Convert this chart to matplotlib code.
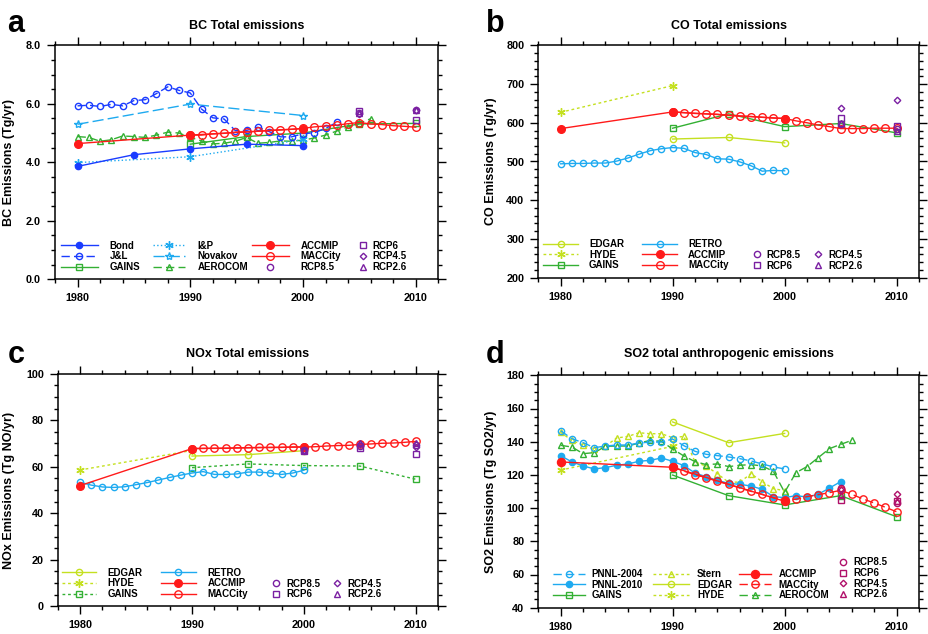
import numpy as np
import matplotlib.pyplot as plt
from matplotlib.ticker import MultipleLocator, FormatStrFormatter

plt.rcParams['font.family'] = ['Liberation Sans', 'DejaVu Sans']
plt.rcParams['font.weight'] = 'bold'

# ---------------- a: BC (Tg/yr)
bc_bond_yr = [1980, 1985, 1990, 1995, 2000]
bc_bond = [3.86, 4.26, 4.46, 4.62, 4.57]
bc_jl_yr = list(range(1980, 2004))
bc_jl = [5.93, 5.95, 5.91, 5.98, 5.93, 6.11, 6.14, 6.35, 6.58, 6.46, 6.37, 5.82,
         5.52, 5.48, 5.08, 5.09, 5.20, 5.05, 4.87, 4.87, 4.98, 5.01, 5.16, 5.37]
bc_gains_yr = [1990, 1995, 2000, 2005, 2010]
bc_gains = [4.62, 4.88, 5.00, 5.31, 5.33]
bc_ip_yr = [1980, 1990, 2000]
bc_ip = [3.99, 4.19, 4.78]
bc_novakov_yr = [1980, 1990, 2000]
bc_novakov = [5.30, 5.99, 5.60]
bc_aerocom_yr = list(range(1980, 2007))
bc_aerocom = [4.88, 4.85, 4.72, 4.77, 4.90, 4.88, 4.85, 4.93, 5.03, 5.00, 4.85, 4.73,
              4.63, 4.65, 4.72, 4.85, 4.65, 4.68, 4.73, 4.72, 4.76, 4.83, 4.93, 5.07,
              5.21, 5.33, 5.49]
bc_accmip_yr = [1980, 1990, 2000]
bc_accmip = [4.64, 4.93, 5.15]
bc_macc_yr = list(range(1990, 2011))
bc_macc = [4.93, 4.93, 4.97, 4.99, 5.03, 5.04, 5.06, 5.09, 5.11, 5.13, 5.16, 5.21,
           5.24, 5.27, 5.32, 5.36, 5.31, 5.29, 5.25, 5.23, 5.20]
bc_rcp = {'RCP8.5': [5.70, 5.78], 'RCP6': [5.77, 5.45],
          'RCP4.5': [5.65, 5.80], 'RCP2.6': [5.68, 5.80]}

# ---------------- b: CO (Tg/yr)
co_edgar_yr = [1990, 1995, 2000]
co_edgar = [558, 562, 548]
co_hyde_yr = [1980, 1990]
co_hyde = [627, 696]
co_gains_yr = [1990, 1995, 2000, 2005, 2010]
co_gains = [586, 623, 590, 598, 574]
co_retro_yr = list(range(1980, 2001))
co_retro = [494, 495, 495, 496, 496, 501, 509, 519, 528, 533, 536, 534, 523, 518,
            507, 506, 499, 489, 475, 477, 476]
co_accmip_yr = [1980, 1990, 2000]
co_accmip = [585, 628, 611]
co_macc_yr = list(range(1990, 2011))
co_macc = [628, 626, 624, 623, 622, 619, 617, 616, 614, 612, 611, 605, 600, 594,
           590, 585, 585, 585, 586, 586, 586]
co_rcp = {'RCP8.5': [598, 583], 'RCP6': [612, 592],
          'RCP4.5': [637, 660], 'RCP2.6': [600, 578]}

# ---------------- c: NOx (Tg NO/yr)
nox_edgar_yr = [1990, 1995, 2000]
nox_edgar = [64.6, 65.2, 66.9]
nox_hyde_yr = [1980, 1990]
nox_hyde = [58.6, 67.0]
nox_gains_yr = [1990, 1995, 2000, 2005, 2010]
nox_gains = [59.6, 61.2, 60.5, 60.3, 54.6]
nox_retro_yr = list(range(1980, 2001))
nox_retro = [53.3, 52.1, 51.3, 51.1, 51.4, 52.3, 53.2, 54.3, 55.4, 56.4, 57.3, 57.9,
             56.7, 56.7, 56.9, 57.7, 57.7, 57.3, 56.7, 57.3, 58.5]
nox_accmip_yr = [1980, 1990, 2000]
nox_accmip = [51.9, 67.8, 68.5]
nox_macc_yr = list(range(1990, 2011))
nox_macc = [67.8, 67.9, 67.9, 67.9, 68.1, 68.2, 68.3, 68.3, 68.3, 68.5, 68.5, 68.6,
            68.9, 69.1, 69.2, 69.6, 69.8, 70.1, 70.2, 70.5, 70.9]
nox_rcp_yr = [2000, 2005, 2010]
nox_rcp = {'RCP8.5': [67.0, 69.0, 69.3], 'RCP6': [66.9, 68.2, 65.6],
           'RCP4.5': [67.0, 69.8, 68.6], 'RCP2.6': [67.0, 70.0, 70.3]}

# ---------------- d: SO2 (Tg SO2/yr)
so2_pnnl04_yr = list(range(1980, 2001))
so2_pnnl04 = [146.6, 141.8, 139.4, 136.4, 137.4, 138.0, 138.0, 139.2, 139.8, 139.8,
              141.6, 137.6, 134.2, 132.4, 131.6, 130.8, 129.8, 128.4, 126.6, 124.8, 123.6]
so2_pnnl10_yr = list(range(1980, 2006))
so2_pnnl10 = [131.6, 127.8, 125.4, 123.6, 124.4, 125.8, 126.6, 128.2, 128.8, 130.2,
              128.2, 125.6, 121.1, 118.9, 116.7, 114.9, 114.3, 113.3, 111.3, 106.9,
              106.3, 107.5, 106.7, 108.3, 112.1, 115.9]
so2_gains_yr = [1990, 1995, 2000, 2005, 2010]
so2_gains = [119.9, 107.5, 101.9, 107.5, 94.8]
so2_stern_yr = list(range(1980, 2001))
so2_stern = [145.6, 140.8, 138.0, 135.4, 137.4, 142.2, 143.2, 145.4, 144.8, 144.8,
             142.4, 143.2, 127.8, 125.2, 120.7, 115.5, 115.7, 120.7, 115.9, 111.7, 110.5]
so2_edgar_yr = [1990, 1995, 2000]
so2_edgar = [151.9, 139.4, 145.0]
so2_hyde_yr = [1980, 1990]
so2_hyde = [122.9, 137.2]
so2_accmip_yr = [1980, 1990, 2000]
so2_accmip = [127.8, 124.6, 104.1]
so2_macc_yr = list(range(1990, 2011))
so2_macc = [124.6, 122.3, 120.1, 118.3, 116.1, 114.3, 112.1, 110.1, 108.3, 106.3,
            104.9, 105.3, 106.9, 108.1, 109.3, 110.7, 108.3, 105.5, 103.1, 100.5, 97.8]
so2_aerocom_yr = list(range(1980, 2007))
so2_aerocom = [137.8, 136.8, 132.8, 133.4, 137.2, 137.4, 137.4, 139.2, 140.8, 140.2,
               135.6, 131.4, 128.0, 126.2, 126.6, 125.0, 125.8, 126.2, 125.4, 122.1,
               109.5, 121.3, 125.0, 130.4, 135.8, 138.4, 140.8]
so2_rcp = {'RCP8.5': [112.0, 103.0], 'RCP6': [105.0, 104.0],
           'RCP4.5': [111.0, 108.7], 'RCP2.6': [108.0, 104.0]}
rcp_yr = [2005, 2010]

# colours
BLUE = '#1a3cff'
SKY = '#1eaaf0'
GREEN = '#33b033'
LIME = '#c4e020'
RED = '#ff1a1a'
PURPLE = '#7a1fa2'
MAGENTA = '#b0106a'
ASTER = (6, 2, 0)   # asterisk marker

W, H = 929, 634
fig = plt.figure(figsize=(W / 100, H / 100), dpi=100)


def make_axes(l, t, r, b):
    return fig.add_axes([l / W, 1 - b / H, (r - l) / W, (b - t) / H])


def line(ax, x, y, label, color, ls='-', marker='o', filled=False, ms=4.3, lw=1.0, z=2):
    h, = ax.plot(x, y, color=color, ls=ls, lw=lw, marker=marker, ms=ms,
                 mfc=color if filled else 'none', mec=color, mew=1.0,
                 label=label, zorder=z)
    return h


def rcp(ax, x, vals, color):
    mk = {'RCP8.5': ('o', 4.5), 'RCP6': ('s', 5), 'RCP4.5': ('D', 3.3), 'RCP2.6': ('^', 4.5)}
    hs = {}
    for name, v in vals.items():
        m, s = mk[name]
        hs[name], = ax.plot(x, v, ls='none', marker=m, ms=s, mfc='none', mec=color,
                            mew=1.0, label=name, zorder=5)
    return hs


def style(ax, xlim, ylim, ymaj, ymin, fmt, title, ylabel, ylab_right, title_dy, letter, lx, ly):
    ax.set_xlim(*xlim)
    ax.set_ylim(*ylim)
    ax.xaxis.set_major_locator(MultipleLocator(10))
    ax.xaxis.set_minor_locator(MultipleLocator(2))
    ax.yaxis.set_major_locator(MultipleLocator(ymaj))
    ax.yaxis.set_minor_locator(MultipleLocator(ymin))
    ax.yaxis.set_major_formatter(FormatStrFormatter(fmt))
    ax.tick_params(which='both', direction='out', top=True, right=True, width=1.0,
                   labelsize=7.8, pad=4)
    ax.tick_params(which='major', length=6)
    ax.tick_params(which='minor', length=3)
    for sp in ax.spines.values():
        sp.set_linewidth(1.1)
    for t in ax.get_xticklabels() + ax.get_yticklabels():
        t.set_fontweight('bold')
    ax.set_ylabel(ylabel, fontsize=9, fontweight='bold')
    # position of the right edge of the rotated label, in figure pixels
    l = ax.get_position().x0 * W
    w = ax.get_position().width * W
    ax.yaxis.set_label_coords((ylab_right - l) / w, 0.5)
    ax.text(0.5, 1 + title_dy, title, transform=ax.transAxes, ha='center',
            va='baseline', fontsize=9, fontweight='bold')
    fig.text(lx / W, 1 - ly / H, letter, fontsize=22, fontweight='bold', va='baseline')


def column(handles, x, y, hl, pad):
    fig.legend(handles=handles, loc='center left', bbox_to_anchor=(x / W, 1 - y / H),
               frameon=False, prop={'size': 7, 'weight': 'bold'}, handlelength=hl,
               handletextpad=pad, labelspacing=0.08, borderpad=0, borderaxespad=0)


# ================= panel a
ax = make_axes(55, 45.3, 438.3, 279.3)
h = {}
h['AEROCOM'] = line(ax, bc_aerocom_yr, bc_aerocom, 'AEROCOM', GREEN, ls=(0, (6, 3)), marker='^', ms=4.5)
h['GAINS'] = line(ax, bc_gains_yr, bc_gains, 'GAINS', GREEN, marker='s', ms=4.5)
h['I&P'] = line(ax, bc_ip_yr, bc_ip, 'I&P', SKY, ls=':', marker=ASTER, ms=6)
h['Novakov'] = line(ax, bc_novakov_yr, bc_novakov, 'Novakov', SKY, ls=(0, (8, 3)), marker='*', ms=6)
h['J&L'] = line(ax, bc_jl_yr, bc_jl, 'J&L', BLUE, ls=(0, (6, 3)), marker='o', ms=4.5)
h['Bond'] = line(ax, bc_bond_yr, bc_bond, 'Bond', BLUE, marker='o', filled=True, ms=4.5)
h['MACCity'] = line(ax, bc_macc_yr, bc_macc, 'MACCity', RED, marker='o', ms=5.5, z=3)
h['ACCMIP'] = line(ax, bc_accmip_yr, bc_accmip, 'ACCMIP', RED, marker='o', filled=True, ms=5.5, z=4)
h.update(rcp(ax, rcp_yr, bc_rcp, PURPLE))
style(ax, (1978, 2012), (0, 8), 2, 0.5, '%.1f', 'BC Total emissions',
      'BC Emissions (Tg/yr)', 15.5, 16 / 234, 'a', 7, 31.7)
column([h['Bond'], h['J&L'], h['GAINS']], 61, 256.3, 3.8, 1.2)
column([h['I&P'], h['Novakov'], h['AEROCOM']], 153, 256.3, 3.3, 1.3)
column([h['ACCMIP'], h['MACCity'], h['RCP8.5']], 252, 256.3, 3.8, 1.2)
column([h['RCP6'], h['RCP4.5'], h['RCP2.6']], 359, 256.3, 0.8, 0.6)

# ================= panel b
ax = make_axes(538.3, 45.3, 919, 277.7)
h = {}
h['HYDE'] = line(ax, co_hyde_yr, co_hyde, 'HYDE', LIME, ls=(0, (2, 2)), marker=ASTER, ms=6)
h['EDGAR'] = line(ax, co_edgar_yr, co_edgar, 'EDGAR', LIME, marker='o', ms=4.5)
h['GAINS'] = line(ax, co_gains_yr, co_gains, 'GAINS', GREEN, marker='s', ms=4.5)
h['RETRO'] = line(ax, co_retro_yr, co_retro, 'RETRO', SKY, marker='o', ms=4.5)
h['MACCity'] = line(ax, co_macc_yr, co_macc, 'MACCity', RED, marker='o', ms=5.5, z=3)
h['ACCMIP'] = line(ax, co_accmip_yr, co_accmip, 'ACCMIP', RED, marker='o', filled=True, ms=5.5, z=4)
h.update(rcp(ax, rcp_yr, co_rcp, PURPLE))
style(ax, (1978, 2012), (200, 800), 100, 20, '%d', 'CO Total emissions',
      'CO Emissions (Tg/yr)', 497, 16 / 232.4, 'b', 485.7, 31.7)
column([h['EDGAR'], h['HYDE'], h['GAINS']], 543.3, 254.7, 3.6, 1.1)
column([h['RETRO'], h['ACCMIP'], h['MACCity']], 642.3, 254.7, 3.6, 1.1)
column([h['RCP8.5'], h['RCP6']], 753, 260.2, 0.8, 0.6)
column([h['RCP4.5'], h['RCP2.6']], 814.5, 260.2, 0.8, 0.6)

# ================= panel c
ax = make_axes(57.7, 373.7, 438.3, 606.3)
h = {}
h['HYDE'] = line(ax, nox_hyde_yr, nox_hyde, 'HYDE', LIME, ls=(0, (2, 2)), marker=ASTER, ms=6)
h['EDGAR'] = line(ax, nox_edgar_yr, nox_edgar, 'EDGAR', LIME, marker='o', ms=4.5)
h['GAINS'] = line(ax, nox_gains_yr, nox_gains, 'GAINS', GREEN, ls=(0, (2, 2)), marker='s', ms=4.5)
h['RETRO'] = line(ax, nox_retro_yr, nox_retro, 'RETRO', SKY, marker='o', ms=4.5)
h['MACCity'] = line(ax, nox_macc_yr, nox_macc, 'MACCity', RED, marker='o', ms=5.3, z=3)
h['ACCMIP'] = line(ax, nox_accmip_yr, nox_accmip, 'ACCMIP', RED, marker='o', filled=True, ms=5.5, z=4)
h.update(rcp(ax, nox_rcp_yr, nox_rcp, PURPLE))
style(ax, (1978, 2012), (0, 100), 20, 5, '%d', 'NOx Total emissions',
      'NOx Emissions (Tg NO/yr)', 15.5, 17 / 232.6, 'c', 8, 363.3)
column([h['EDGAR'], h['HYDE'], h['GAINS']], 62, 583.3, 3.5, 1.2)
column([h['RETRO'], h['ACCMIP'], h['MACCity']], 161, 583.3, 3.6, 1.2)
column([h['RCP8.5'], h['RCP6']], 272.5, 589, 0.8, 0.6)
column([h['RCP4.5'], h['RCP2.6']], 333.5, 589, 0.8, 0.6)

# ================= panel d
ax = make_axes(538.3, 375.3, 919, 607.7)
h = {}
h['Stern'] = line(ax, so2_stern_yr, so2_stern, 'Stern', LIME, ls=(0, (2, 2)), marker='^', ms=4.5)
h['HYDE'] = line(ax, so2_hyde_yr, so2_hyde, 'HYDE', LIME, ls=(0, (2, 2)), marker=ASTER, ms=6)
h['EDGAR'] = line(ax, so2_edgar_yr, so2_edgar, 'EDGAR', LIME, marker='o', ms=4.5)
h['AEROCOM'] = line(ax, so2_aerocom_yr, so2_aerocom, 'AEROCOM', GREEN, ls=(0, (6, 3)), marker='^', ms=4.5)
h['GAINS'] = line(ax, so2_gains_yr, so2_gains, 'GAINS', GREEN, marker='s', ms=4.5)
h['PNNL-2004'] = line(ax, so2_pnnl04_yr, so2_pnnl04, 'PNNL-2004', SKY, ls=(0, (6, 3)), marker='o', ms=4.5)
h['PNNL-2010'] = line(ax, so2_pnnl10_yr, so2_pnnl10, 'PNNL-2010', SKY, marker='o', filled=True, ms=4.5)
h['MACCity'] = line(ax, so2_macc_yr, so2_macc, 'MACCity', RED, ls=(0, (6, 3)), marker='o', ms=5.3, z=3)
h['ACCMIP'] = line(ax, so2_accmip_yr, so2_accmip, 'ACCMIP', RED, marker='o', filled=True, ms=5.8, z=4)
h.update(rcp(ax, rcp_yr, so2_rcp, MAGENTA))
style(ax, (1978, 2012), (40, 180), 20, 5, '%d', 'SO2 total anthropogenic emissions',
      'SO2 Emissions (Tg SO2/yr)', 497, 18.6 / 232.4, 'd', 485.7, 363.3)
column([h['PNNL-2004'], h['PNNL-2010'], h['GAINS']], 552.7, 584.7, 3.3, 0.7)
column([h['Stern'], h['EDGAR'], h['HYDE']], 653.3, 584.7, 3.7, 0.8)
column([h['ACCMIP'], h['MACCity'], h['AEROCOM']], 739, 584.7, 3.3, 0.8)
column([h['RCP8.5'], h['RCP6'], h['RCP4.5'], h['RCP2.6']], 839.5, 578.3, 0.8, 0.6)

fig.savefig('out.png', dpi=100)
